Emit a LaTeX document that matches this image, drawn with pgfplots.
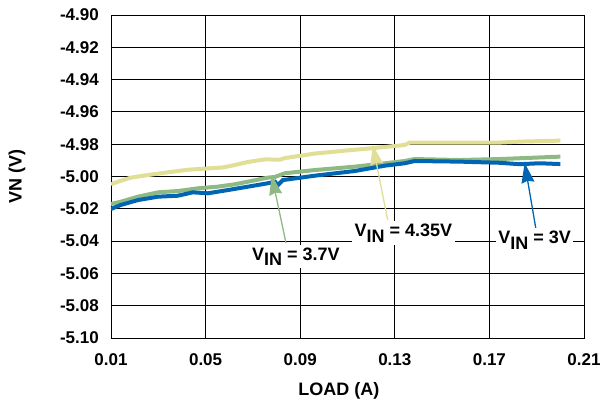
\documentclass[border=0pt]{standalone}
\usepackage{fontspec}
\setmainfont{Liberation Sans}
\usepackage{pgfplots}
\pgfplotsset{compat=1.18}
\usetikzlibrary{arrows.meta}
\definecolor{cblue}{RGB}{0,102,179}
\definecolor{cgreen}{RGB}{143,185,130}
\definecolor{cyellow}{RGB}{225,222,150}
\newcommand{\vin}{V\raisebox{-5.5pt}{IN}}
\begin{document}
\begin{tikzpicture}
\begin{axis}[
  scale only axis,
  width=473pt, height=323pt,
  xmin=0.01, xmax=0.21, ymin=-5.10, ymax=-4.90,
  xtick={0.01,0.05,0.09,0.13,0.17,0.21},
  ytick={-5.10,-5.08,-5.06,-5.04,-5.02,-5.00,-4.98,-4.96,-4.94,-4.92,-4.90},
  grid=major,
  major grid style={black, line width=0.9pt},
  axis line style={black, line width=0.9pt},
  major tick length=0pt,
  font=\bfseries\fontsize{17}{20}\selectfont,
  /pgf/number format/assume math mode=true,
  xticklabel style={/pgf/number format/.cd, fixed, fixed zerofill, precision=2, /tikz/.cd, anchor=center, yshift=-22pt, inner sep=0pt},
  yticklabel style={/pgf/number format/.cd, fixed, fixed zerofill, precision=2, /tikz/.cd, anchor=east, xshift=-12pt, inner sep=0pt},
  xlabel={LOAD (A)},
  ylabel={VN (V)},
  xlabel style={at={(axis description cs:0.482,-0.164)}, anchor=center, font=\bfseries\fontsize{18}{21}\selectfont},
  ylabel style={at={(axis description cs:-0.199,0.5)}, anchor=center, font=\bfseries\fontsize{18}{21}\selectfont},
]
\addplot[cyellow, line width=4pt] coordinates {
(0.01,-5.0048) (0.013,-5.0032) (0.0184,-5.0007) (0.0256,-4.9991) (0.0341,-4.9974)
(0.0425,-4.9958) (0.051,-4.9950) (0.0573,-4.9944) (0.0620,-4.9930) (0.0679,-4.9910)
(0.0751,-4.9894) (0.0814,-4.9896) (0.0835,-4.9886) (0.0962,-4.9858) (0.1089,-4.9840)
(0.1203,-4.9825) (0.1342,-4.9805) (0.1363,-4.9790) (0.1574,-4.9791) (0.1743,-4.9790)
(0.1828,-4.9784) (0.20,-4.9778)};
\addplot[cgreen, line width=4pt] coordinates {
(0.01,-5.0170) (0.0142,-5.0156) (0.0214,-5.0125) (0.0299,-5.0098) (0.0383,-5.0090)
(0.0468,-5.0073) (0.0552,-5.0063) (0.0624,-5.0048) (0.0679,-5.0032) (0.0763,-5.0007)
(0.0793,-5.0003) (0.0835,-4.9980) (0.0962,-4.9960) (0.1131,-4.9939) (0.1258,-4.9918)
(0.1342,-4.9904) (0.1384,-4.9892) (0.1574,-4.9898) (0.1743,-4.9892) (0.20,-4.9877)};
\addplot[cblue, line width=4pt] coordinates {
(0.01,-5.0201) (0.0142,-5.0176) (0.0214,-5.0146) (0.0299,-5.0125) (0.0383,-5.0119)
(0.0446,-5.0098) (0.051,-5.0104) (0.0594,-5.0084) (0.0679,-5.0063) (0.0763,-5.0042)
(0.0793,-5.0032) (0.0806,-5.0053) (0.0827,-5.0022) (0.0962,-4.9995) (0.1131,-4.9966)
(0.1258,-4.9933) (0.1342,-4.9918) (0.1384,-4.9904) (0.1574,-4.9908) (0.1743,-4.9915)
(0.1828,-4.9924) (0.1912,-4.9918) (0.20,-4.9923)};
\draw[cgreen, line width=1.3pt, -{Stealth[width=13pt,length=20pt,inset=2pt]}] (axis cs:0.084,-5.0412) -- (axis cs:0.0779,-4.9991);
\draw[cyellow, line width=1.3pt, -{Stealth[width=13pt,length=20pt,inset=2pt]}] (axis cs:0.127,-5.027) -- (axis cs:0.1207,-4.9805);
\draw[cblue, line width=1.3pt, -{Stealth[width=13pt,length=20pt,inset=2pt]}] (axis cs:0.1896,-5.0319) -- (axis cs:0.1849,-4.9916);
\node[fill=white, inner sep=2.5pt, font=\bfseries\fontsize{18}{21}\selectfont] at (axis cs:0.0882,-5.0498) {\vin\ = 3.7V};
\node[fill=white, inner sep=2.5pt, font=\bfseries\fontsize{18}{21}\selectfont] at (axis cs:0.1336,-5.035) {\vin\ = 4.35V};
\node[fill=white, inner sep=2.5pt, font=\bfseries\fontsize{18}{21}\selectfont] at (axis cs:0.1891,-5.0393) {\vin\ = 3V};
\end{axis}
\pgfresetboundingbox
\useasboundingbox (-111pt,-68pt) rectangle (499pt,338pt);
\end{tikzpicture}
\end{document}
